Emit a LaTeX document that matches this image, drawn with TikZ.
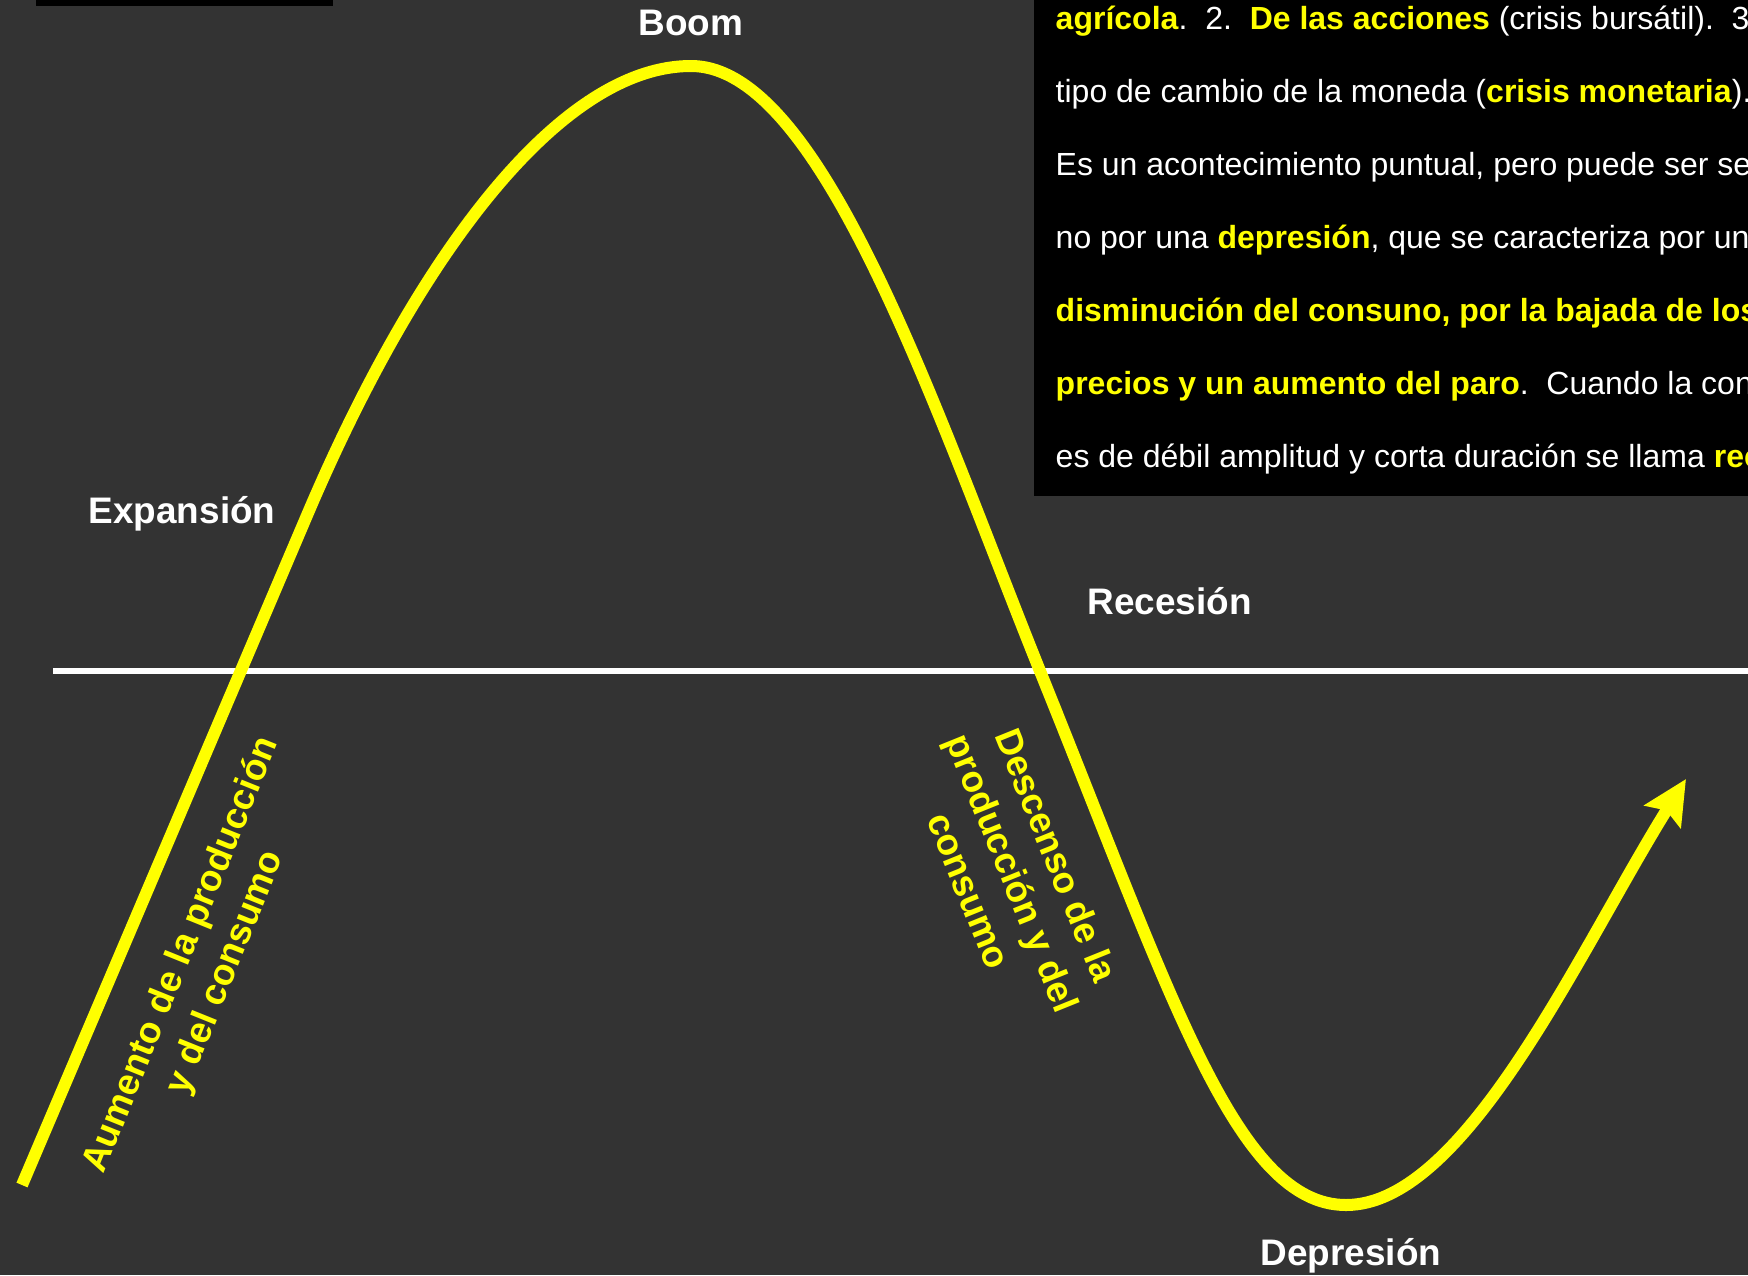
\documentclass[tikz,border=0pt]{standalone}
\usepackage{fontspec}
\setmainfont{Liberation Sans}
\usepackage{xcolor}
\usepackage{tikz}
\usetikzlibrary{arrows.meta}

\definecolor{fondo}{RGB}{51,51,51}
\definecolor{amarillo}{RGB}{255,255,0}
\newcommand{\resalta}[1]{\textcolor{amarillo}{\textbf{#1}}}

\begin{document}
\begin{tikzpicture}[x=0.01cm, y=-0.01cm,
      fase/.style={text=white, inner sep=0pt, font=\fontsize{10.5}{12.6}\selectfont\bfseries},
      nota/.style={text=amarillo, inner sep=0pt, align=center,
                   font=\fontsize{10.5}{13.4}\selectfont\bfseries},
      linea/.style={text=white, inner sep=0pt, anchor=base west,
                    font=\fontsize{9.1}{10.9}\selectfont},
      curva/.style={amarillo, line width=0.12cm},
      flecha/.style={-{Stealth[length=0.44cm, width=0.42cm, inset=0.07cm]}},
      eje/.style={white, line width=0.06cm}]
    \useasboundingbox (0,0) rectangle (1748,1275);
    \clip (0,0) rectangle (1748,1275);
    \fill[fondo] (0,0) rectangle (1748,1275);
    \fill[black] (36,-10) rectangle (333,6);
    \fill[black] (1034,-10) rectangle (1760,496);
    \frenchspacing
    \node[linea] (l1) at (1055,29) {\resalta{agrícola}.\ \ 2.\ \ \resalta{De las acciones} (crisis bursátil).\ \ 3};
    \node[linea] (l2) at (1055,102) {tipo de cambio de la moneda (\resalta{crisis monetaria}).};
    \node[linea] (l3) at (1055,175) {Es un acontecimiento puntual, pero puede ser se};
    \node[linea] (l4) at (1055,248) {no por una \resalta{depresión}, que se caracteriza por un};
    \node[linea] (l5) at (1055,321) {\resalta{disminución del consuno, por la bajada de los}};
    \node[linea] (l6) at (1055,394) {\resalta{precios y un aumento del paro}.\ \ Cuando la con};
    \node[linea] (l7) at (1055,467) {es de débil amplitud y corta duración se llama \resalta{rec}};
    \draw[eje] (53,671) -- (1760,671);
    \coordinate (inicio) at (22,1185);
    \coordinate (recta) at (308,513);
    \coordinate (cima) at (691,66);
    \coordinate (corte) at (1040,671);
    \coordinate (valle) at (1346,1205);
    \coordinate (punta) at (1686,779);
    \draw[curva, flecha] (inicio) -- (recta)
      .. controls (418,255) and (560,66) .. (cima)
      .. controls (822,66) and (935,410) .. (corte)
      .. controls (1171,995) and (1236,1205) .. (valle)
      .. controls (1466,1205) and (1580,949) .. (punta);
    \node[fase, anchor=base] (boom) at (691,35) {Boom};
    \node[fase, anchor=base west] (expansion) at (88,523) {Expansión};
    \node[fase, anchor=base west] (recesion) at (1087,614) {Recesión};
    \node[fase, anchor=base west] (depresion) at (1260,1265) {Depresión};
    \node[nota, rotate=68] (aumento) at (204,964) {Aumento de la producción\\y del consumo};
    \node[nota, rotate=-68] (descenso) at (1013,873) {Descenso de la\\producción y del\\consumo};
  \end{tikzpicture}
\end{document}
